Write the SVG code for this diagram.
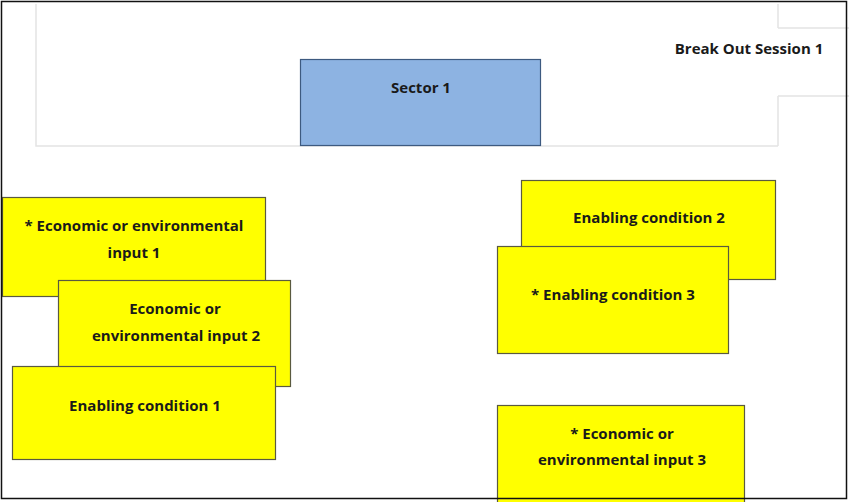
<svg xmlns="http://www.w3.org/2000/svg" width="849" height="502" viewBox="0 0 849 502">
<style>
.t{font-family:"Open Sans","Liberation Sans",Arial,sans-serif;font-weight:bold;font-size:15px;fill:#1a1a1a;text-anchor:middle}
.y{fill:#ffff00;stroke:#5a5a40;stroke-width:1.2}
.g{stroke:#e4e4e4;stroke-width:1.5;fill:none}
</style>
<rect x="0" y="0" width="849" height="502" fill="#ffffff"/>
<g id="frame">
<path class="g" d="M36 4V146H778M778 4V28M778 96V146M778 28H849M778 96H849"/>
</g>
<g id="break-out-session"><text class="t" x="749" y="54">Break Out Session 1</text></g>
<g id="sector-1">
<rect x="300.5" y="59.5" width="240" height="86" fill="#8db3e2" stroke="#3d5a80" stroke-width="1.2"/>
<text class="t" x="421" y="93">Sector 1</text>
</g>
<g id="econ-input-1">
<rect class="y" x="2.5" y="197.5" width="263" height="99"/>
<text class="t" x="134" y="231">* Economic or environmental</text>
<text class="t" x="134" y="258">input 1</text>
</g>
<g id="econ-input-2">
<rect class="y" x="58.5" y="280.5" width="232" height="106"/>
<text class="t" x="175" y="314">Economic or</text>
<text class="t" x="176" y="341">environmental input 2</text>
</g>
<g id="enabling-1">
<rect class="y" x="12.5" y="366.5" width="263" height="93"/>
<text class="t" x="145" y="411">Enabling condition 1</text>
</g>
<g id="enabling-2">
<rect class="y" x="521.5" y="180.5" width="254" height="99"/>
<text class="t" x="649" y="223">Enabling condition 2</text>
</g>
<g id="enabling-3">
<rect class="y" x="497.5" y="246.5" width="231" height="107"/>
<text class="t" x="613" y="300">* Enabling condition 3</text>
</g>
<g id="econ-input-3">
<rect class="y" x="497.5" y="405.5" width="247" height="100"/>
<text class="t" x="622" y="439">* Economic or</text>
<text class="t" x="622" y="465">environmental input 3</text>
</g>
<g id="connectors"></g>
<rect x="1.5" y="1.5" width="845" height="497" fill="none" stroke="#111" stroke-width="1.5"/>
</svg>
